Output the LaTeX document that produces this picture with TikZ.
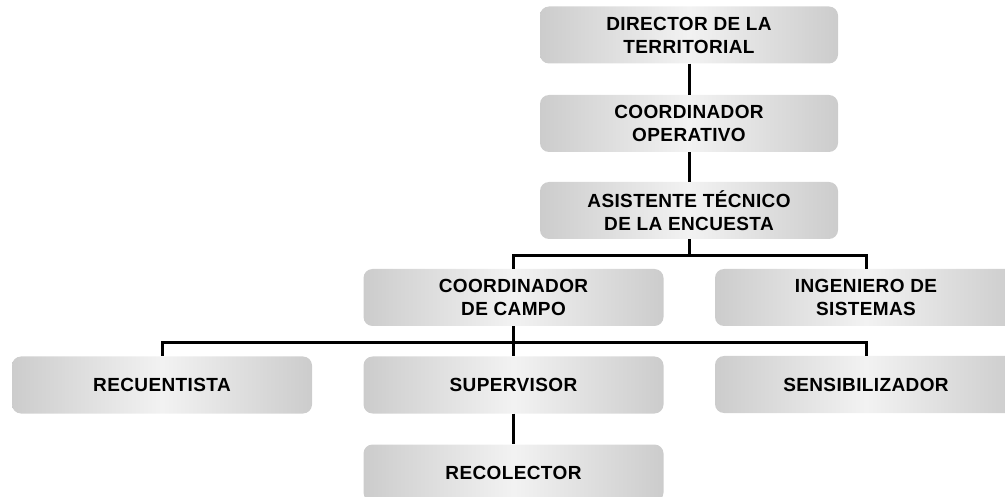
\documentclass[tikz,border=0pt]{standalone}
\usepackage{fontspec}
\setmainfont{Liberation Sans}[LetterSpace=2]
\begin{document}
\begin{tikzpicture}[x=1pt,y=-1pt,
  box/.style={rounded corners=9pt, minimum width=300pt, minimum height=57pt,
    left color=black!20, right color=black!20, middle color=black!5,
    draw=none, align=center, inner sep=0pt,
    font=\fontsize{19}{23}\selectfont\bfseries},
  conn/.style={line width=3pt, black}]
\useasboundingbox (0,0) rectangle (1005,497);
\node[box, minimum width=298pt] (dir) at (689,35) {DIRECTOR DE LA\\TERRITORIAL};
\node[box, minimum width=298pt] (cop) at (689,123.5) {COORDINADOR\\OPERATIVO};
\node[box, minimum width=298pt] (asi) at (689,210.5) {ASISTENTE TÉCNICO\\DE LA ENCUESTA};
\node[box] (cam) at (513.5,297.5) {COORDINADOR\\DE CAMPO};
\node[box, minimum width=302pt] (ing) at (866,297.5) {INGENIERO DE\\SISTEMAS};
\node[box] (rec) at (162,385) {RECUENTISTA};
\node[box] (sup) at (513.5,385) {SUPERVISOR};
\node[box, minimum width=302pt] (sen) at (866,384.5) {SENSIBILIZADOR};
\node[box] (col) at (513.5,473) {RECOLECTOR};
\coordinate (b1) at (689,256);
\coordinate (b2) at (513.5,343);
\draw[conn] (dir) -- (cop);
\draw[conn] (cop) -- (asi);
\draw[conn] (asi) -- (b1) -| (cam);
\draw[conn] (b1) -| (ing);
\draw[conn] (cam) -- (b2) -| (rec);
\draw[conn] (b2) -| (sen);
\draw[conn] (b2) -- (sup);
\draw[conn] (sup) -- (col);
\end{tikzpicture}
\end{document}
